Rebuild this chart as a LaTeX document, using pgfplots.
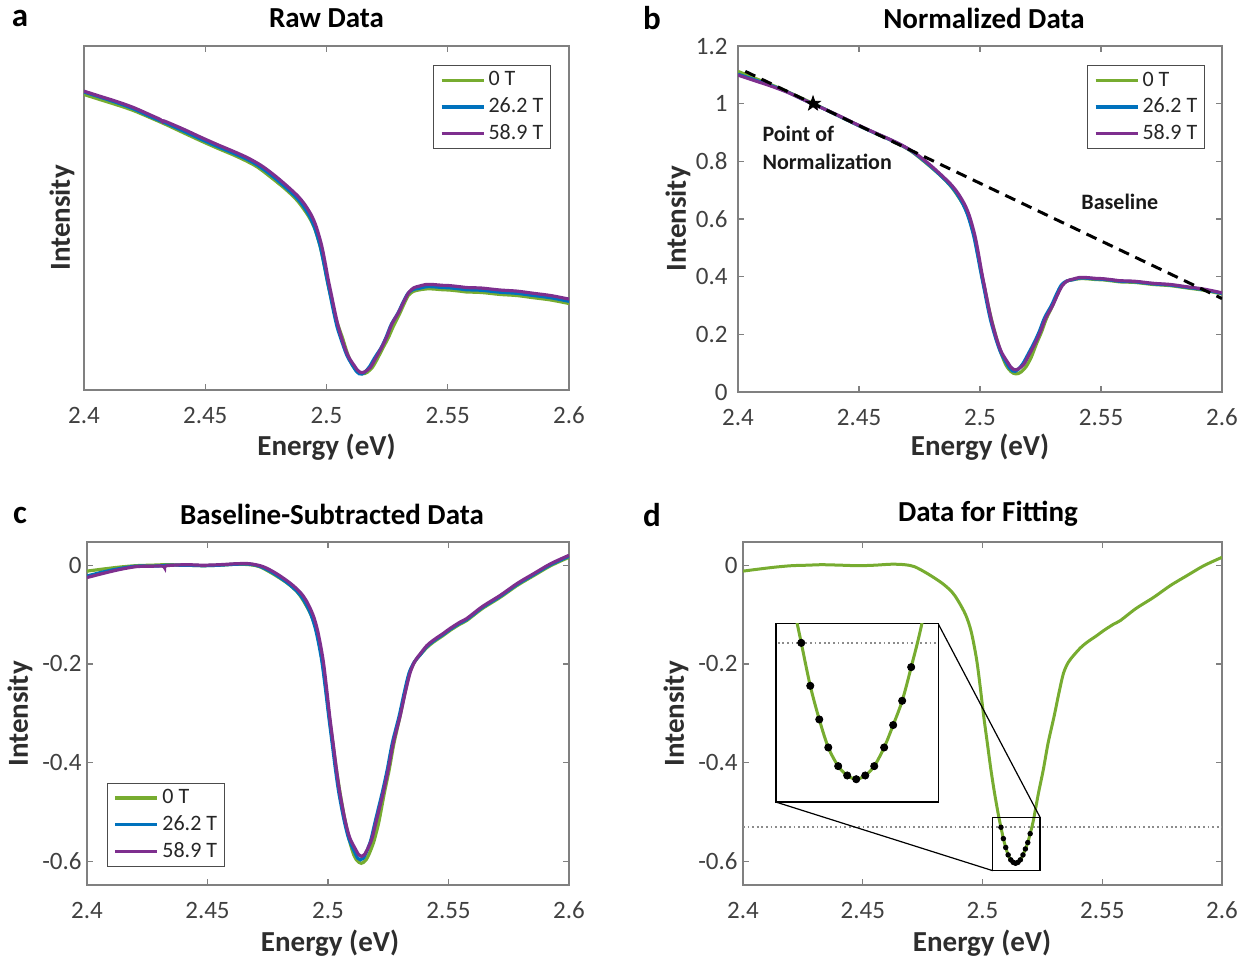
\documentclass[border=0pt]{standalone}
\usepackage{fontspec}
\setmainfont{Carlito}
\usepackage{pgfplots}
\pgfplotsset{compat=1.18}
\usepackage{pgfplotstable}
\usetikzlibrary{plotmarks}

\definecolor{mgreen}{RGB}{119,172,48}
\definecolor{mblue}{RGB}{0,114,189}
\definecolor{mpurple}{RGB}{126,47,142}
\definecolor{axgray}{RGB}{128,128,128}
\definecolor{ticklab}{RGB}{64,64,64}
\definecolor{labcol}{RGB}{45,45,45}

\newcommand\ticksize{\fontsize{12.5}{15}\selectfont}
\newcommand\labsize{\fontsize{14.5}{17}\selectfont\bfseries}
\newcommand\letsize{\fontsize{16.5}{19}\selectfont\bfseries}

\pgfdeclareplotmark{fstar}{%
 \pgfpathmoveto{\pgfpointpolar{90}{\pgfplotmarksize}}%
 \pgfpathlineto{\pgfpointpolar{126}{0.4\pgfplotmarksize}}%
 \pgfpathlineto{\pgfpointpolar{162}{\pgfplotmarksize}}%
 \pgfpathlineto{\pgfpointpolar{198}{0.4\pgfplotmarksize}}%
 \pgfpathlineto{\pgfpointpolar{234}{\pgfplotmarksize}}%
 \pgfpathlineto{\pgfpointpolar{270}{0.4\pgfplotmarksize}}%
 \pgfpathlineto{\pgfpointpolar{306}{\pgfplotmarksize}}%
 \pgfpathlineto{\pgfpointpolar{342}{0.4\pgfplotmarksize}}%
 \pgfpathlineto{\pgfpointpolar{18}{\pgfplotmarksize}}%
 \pgfpathlineto{\pgfpointpolar{54}{0.4\pgfplotmarksize}}%
 \pgfpathclose\pgfusepathqfillstroke}

% 58.9 T (purple): x, baseline-subtracted c, normalized n, raw a
\pgfplotstableread{
x c n a
2.4000 -0.025 1.099 1.099
2.4064 -0.017 1.081 1.081
2.4133 -0.009 1.062 1.062
2.4203 -0.003 1.040 1.040
2.4270 -0.002 1.014 1.014
2.4315 -0.002 0.996 0.996
2.4322 -0.005 0.990 0.990
2.4330 -0.001 0.991 0.991
2.4410 0.001 0.961 0.961
2.4481 0.000 0.932 0.932
2.4550 0.001 0.905 0.905
2.4620 0.003 0.879 0.879
2.4675 0.003 0.857 0.857
2.4731 -0.003 0.829 0.829
2.4786 -0.017 0.793 0.793
2.4842 -0.036 0.751 0.751
2.4883 -0.054 0.717 0.717
2.4910 -0.072 0.688 0.688
2.4938 -0.101 0.648 0.648
2.4958 -0.135 0.606 0.606
2.4979 -0.190 0.542 0.542
2.4993 -0.245 0.482 0.482
2.5007 -0.306 0.415 0.415
2.5021 -0.360 0.356 0.356
2.5035 -0.414 0.296 0.296
2.5049 -0.461 0.243 0.243
2.5070 -0.515 0.181 0.181
2.5090 -0.552 0.136 0.136
2.5118 -0.579 0.098 0.098
2.5128 -0.587 0.086 0.086
2.5139 -0.590 0.078 0.078
2.5150 -0.587 0.077 0.077
2.5160 -0.579 0.081 0.081
2.5181 -0.556 0.096 0.096
2.5202 -0.515 0.128 0.128
2.5229 -0.461 0.171 0.171
2.5250 -0.414 0.210 0.210
2.5271 -0.360 0.256 0.256
2.5299 -0.306 0.298 0.298
2.5320 -0.259 0.337 0.337
2.5340 -0.219 0.369 0.369
2.5360 -0.195 0.385 0.385
2.5382 -0.180 0.391 0.391
2.5410 -0.163 0.397 0.397
2.5437 -0.152 0.397 0.397
2.5479 -0.138 0.394 0.394
2.5507 -0.128 0.393 0.393
2.5549 -0.115 0.389 0.389
2.5576 -0.108 0.386 0.386
2.5640 -0.084 0.384 0.384
2.5715 -0.061 0.377 0.377
2.5785 -0.037 0.373 0.373
2.5854 -0.017 0.365 0.365
2.5924 0.003 0.357 0.357
2.6000 0.020 0.344 0.344
}\tabP

% 26.2 T (blue)
\pgfplotstableread{
x c n a
2.4000 -0.022 1.102 1.096
2.4064 -0.014 1.084 1.078
2.4133 -0.007 1.064 1.058
2.4203 -0.002 1.041 1.035
2.4270 -0.002 1.014 1.008
2.4315 -0.001 0.997 0.991
2.4330 0.000 0.992 0.986
2.4410 0.000 0.960 0.954
2.4481 -0.001 0.931 0.925
2.4550 0.000 0.904 0.898
2.4620 0.002 0.878 0.872
2.4675 0.002 0.856 0.850
2.4721 -0.003 0.833 0.827
2.4776 -0.017 0.797 0.791
2.4832 -0.036 0.755 0.749
2.4873 -0.054 0.721 0.715
2.4901 -0.072 0.692 0.686
2.4930 -0.101 0.651 0.645
2.4951 -0.135 0.609 0.603
2.4973 -0.190 0.545 0.539
2.4988 -0.245 0.484 0.478
2.5003 -0.306 0.417 0.411
2.5017 -0.360 0.358 0.352
2.5031 -0.414 0.298 0.292
2.5045 -0.461 0.245 0.239
2.5066 -0.515 0.183 0.183
2.5086 -0.554 0.136 0.136
2.5114 -0.585 0.094 0.094
2.5124 -0.594 0.081 0.081
2.5135 -0.597 0.073 0.073
2.5146 -0.594 0.072 0.072
2.5156 -0.585 0.077 0.077
2.5177 -0.558 0.098 0.098
2.5198 -0.515 0.130 0.130
2.5225 -0.461 0.173 0.167
2.5246 -0.414 0.212 0.206
2.5267 -0.360 0.258 0.252
2.5295 -0.306 0.300 0.294
2.5316 -0.259 0.339 0.333
2.5336 -0.219 0.371 0.365
2.5358 -0.196 0.385 0.379
2.5382 -0.182 0.389 0.383
2.5410 -0.165 0.395 0.389
2.5437 -0.154 0.395 0.389
2.5479 -0.140 0.392 0.386
2.5507 -0.130 0.391 0.385
2.5549 -0.117 0.387 0.381
2.5576 -0.110 0.384 0.378
2.5640 -0.086 0.382 0.376
2.5715 -0.063 0.375 0.369
2.5785 -0.039 0.371 0.365
2.5854 -0.019 0.363 0.357
2.5924 0.001 0.355 0.349
2.6000 0.018 0.342 0.336
}\tabB

% 0 T (green)
\pgfplotstableread{
x c n a
2.4000 -0.012 1.112 1.087
2.4064 -0.008 1.090 1.069
2.4133 -0.004 1.067 1.050
2.4203 -0.001 1.042 1.029
2.4270 0.000 1.016 1.004
2.4330 0.001 0.993 0.981
2.4410 0.000 0.960 0.948
2.4481 -0.001 0.931 0.919
2.4550 0.000 0.904 0.892
2.4620 0.002 0.878 0.866
2.4675 0.001 0.855 0.843
2.4716 -0.003 0.835 0.823
2.4770 -0.017 0.799 0.787
2.4830 -0.036 0.756 0.744
2.4872 -0.054 0.721 0.709
2.4898 -0.072 0.693 0.681
2.4930 -0.101 0.651 0.639
2.4953 -0.135 0.608 0.596
2.4975 -0.190 0.544 0.532
2.4990 -0.245 0.483 0.471
2.5005 -0.306 0.416 0.404
2.5020 -0.360 0.356 0.344
2.5035 -0.414 0.296 0.284
2.5050 -0.461 0.243 0.243
2.5066 -0.505 0.193 0.203
2.5077 -0.531 0.162 0.172
2.5087 -0.554 0.135 0.145
2.5097 -0.572 0.113 0.123
2.5107 -0.587 0.094 0.104
2.5118 -0.597 0.080 0.090
2.5128 -0.602 0.071 0.081
2.5138 -0.604 0.065 0.075
2.5148 -0.602 0.063 0.073
2.5158 -0.597 0.064 0.074
2.5169 -0.587 0.069 0.079
2.5179 -0.575 0.077 0.087
2.5189 -0.562 0.086 0.096
2.5199 -0.544 0.100 0.110
2.5212 -0.518 0.121 0.131
2.5234 -0.461 0.169 0.169
2.5254 -0.414 0.208 0.202
2.5274 -0.360 0.254 0.242
2.5299 -0.306 0.298 0.286
2.5319 -0.259 0.337 0.325
2.5338 -0.219 0.370 0.358
2.5358 -0.197 0.384 0.372
2.5380 -0.183 0.389 0.377
2.5410 -0.167 0.393 0.381
2.5437 -0.156 0.393 0.381
2.5479 -0.142 0.390 0.378
2.5507 -0.132 0.389 0.377
2.5549 -0.119 0.385 0.373
2.5576 -0.112 0.382 0.370
2.5640 -0.088 0.380 0.368
2.5715 -0.065 0.373 0.361
2.5785 -0.041 0.369 0.357
2.5854 -0.021 0.361 0.349
2.5924 -0.001 0.353 0.341
2.6000 0.016 0.340 0.328
}\tabG

% points used for fitting (0 T)
\pgfplotstableread{
x y
2.5077 -0.531
2.5087 -0.554
2.5097 -0.572
2.5107 -0.587
2.5118 -0.597
2.5128 -0.602
2.5138 -0.604
2.5148 -0.602
2.5158 -0.597
2.5169 -0.587
2.5179 -0.575
2.5189 -0.562
2.5199 -0.544
}\tabDots

\pgfplotsset{
 panel/.style={
  scale only axis, anchor=south west,
  xmin=2.4, xmax=2.6,
  xtick={2.4,2.45,2.5,2.55,2.6},
  xticklabels={2.4,2.45,2.5,2.55,2.6},
  tick align=inside, major tick length=3pt,
  axis line style={axgray, line width=0.6pt},
  every tick/.style={axgray, line width=0.6pt},
  tick label style={font=\ticksize, text=ticklab},
  xticklabel style={anchor=center, inner sep=0pt, yshift=-12.5pt},
  yticklabel style={anchor=east, inner sep=0pt},
  legend style={font=\fontsize{11}{13}\selectfont, draw=black!70, line width=0.6pt,
    fill=white, inner xsep=3pt, inner ysep=2.5pt, row sep=3.2pt,
    nodes={inner sep=0.6pt, text=black!85},
    /tikz/every odd column/.style={column sep=1pt}},
  legend cell align=left,
  legend image code/.code={\draw[#1, line width=1.8pt] (0pt,0pt) -- (21pt,0pt);},
  clip=true,
 },
 spec/.style={line width=1.6pt, no marks, smooth, tension=0.5},
}

\begin{document}
\begin{tikzpicture}
\useasboundingbox (0,0) rectangle (625.5pt,480pt);

% ---------- a ----------
\begin{axis}[panel, at={(42pt,285pt)}, width=242.5pt, height=172pt,
  ymin=0.014, ymax=1.263, ytick=\empty,
  legend style={at={(0.963,0.945)}, anchor=north east}]
\addplot[spec, mgreen] table[x=x,y=a]{\tabG};
\addlegendentry{0 T}
\addplot[spec, mblue] table[x=x,y=a]{\tabB};
\addlegendentry{26.2 T}
\addplot[spec, mpurple] table[x=x,y=a]{\tabP};
\addlegendentry{58.9 T}
\end{axis}

% ---------- b ----------
\begin{axis}[panel, at={(369pt,284pt)}, width=242pt, height=173pt,
  ymin=0, ymax=1.2, ytick={0,0.2,0.4,0.6,0.8,1,1.2},
  yticklabels={0,0.2,0.4,0.6,0.8,1,1.2},
  yticklabel style={xshift=-5pt},
  legend style={at={(0.965,0.945)}, anchor=north east}]
\addplot[spec, mgreen] table[x=x,y=n]{\tabG};
\addlegendentry{0 T}
\addplot[spec, mblue] table[x=x,y=n]{\tabB};
\addlegendentry{26.2 T}
\addplot[spec, mpurple] table[x=x,y=n]{\tabP};
\addlegendentry{58.9 T}
\addplot[forget plot, black, line width=1.5pt, dash pattern=on 5.5pt off 3.5pt] coordinates {(2.403,1.112) (2.6,0.324)};
\addplot[forget plot, only marks, mark=fstar, mark size=3.8pt, black] coordinates {(2.431,1.0)};
\node[anchor=west, align=left, font=\fontsize{11}{14}\selectfont\bfseries, text=black!90] at (axis cs:2.4072,0.846) {Point of\\Normalization};
\node[anchor=west, font=\fontsize{11}{14}\selectfont\bfseries, text=black!90] at (axis cs:2.5390,0.661) {Baseline};
\end{axis}

% ---------- c ----------
\begin{axis}[panel, at={(43.5pt,37.5pt)}, width=241pt, height=171.5pt,
  ymin=-0.648, ymax=0.047, ytick={-0.6,-0.4,-0.2,0},
  yticklabels={-0.6,-0.4,-0.2,0},
  yticklabel style={xshift=-2.5pt},
  legend style={at={(0.0415,0.052)}, anchor=south west}]
\addplot[spec, mgreen] table[x=x,y=c]{\tabG};
\addlegendentry{0 T}
\addplot[spec, mblue] table[x=x,y=c]{\tabB};
\addlegendentry{26.2 T}
\addplot[spec, mpurple] table[x=x,y=c]{\tabP};
\addlegendentry{58.9 T}
\end{axis}

% ---------- d ----------
\begin{axis}[panel, at={(371.5pt,37.5pt)}, width=239.5pt, height=171.5pt,
  ymin=-0.648, ymax=0.047, ytick={-0.6,-0.4,-0.2,0},
  yticklabels={-0.6,-0.4,-0.2,0},
  yticklabel style={xshift=-2.5pt}]
\addplot[black!45, line width=0.9pt, dash pattern=on 0.9pt off 1.4pt] coordinates {(2.4,-0.531) (2.6,-0.531)};
\addplot[mgreen, line width=1.5pt, no marks, smooth, tension=0.5] table[x=x,y=c]{\tabG};
\addplot[only marks, mark=*, mark size=1.15pt, black] table[x=x,y=y]{\tabDots};
\draw[black, line width=0.6pt] (axis cs:2.5043,-0.619) rectangle (axis cs:2.5240,-0.5106);
\draw[black, line width=0.6pt] (axis cs:2.4815,-0.1187) -- (axis cs:2.5240,-0.5106);
\draw[black, line width=0.6pt] (axis cs:2.4138,-0.480) -- (axis cs:2.5043,-0.619);
\end{axis}

% inset of d
\begin{axis}[scale only axis, anchor=south west, at={(388pt,79pt)}, width=81.1pt, height=89.1pt,
  xmin=2.5049, xmax=2.5229, ymin=-0.6162, ymax=-0.5208, ticks=none,
  axis line style={black, line width=0.6pt}, axis background/.style={fill=white}, clip=true]
\addplot[black!45, line width=0.9pt, dash pattern=on 0.9pt off 1.4pt] coordinates {(2.50,-0.531) (2.53,-0.531)};
\addplot[mgreen, line width=1.5pt, no marks, smooth] table[x=x,y=c]{\tabG};
\addplot[only marks, mark=*, mark size=1.8pt, black] table[x=x,y=y]{\tabDots};
\end{axis}

% ---------- titles, labels, letters ----------
\node[font=\letsize] at (10pt,471pt) {a};
\node[font=\letsize] at (326pt,471pt) {b};
\node[font=\letsize] at (10pt,222.5pt) {c};
\node[font=\letsize] at (326pt,222.5pt) {d};

\node[font=\labsize] at (163.25pt,471pt) {Raw Data};
\node[font=\labsize] at (492pt,471pt) {Normalized Data};
\node[font=\labsize] at (166pt,223pt) {Baseline-Subtracted Data};
\node[font=\labsize] at (494pt,223pt) {Data for Fitting};

\node[font=\labsize, text=labcol] at (163.25pt,256.5pt) {Energy (eV)};
\node[font=\labsize, text=labcol] at (490pt,256.5pt) {Energy (eV)};
\node[font=\labsize, text=labcol] at (165pt,8.5pt) {Energy (eV)};
\node[font=\labsize, text=labcol] at (491pt,8.5pt) {Energy (eV)};

\node[font=\labsize, text=labcol, rotate=90] at (31pt,371pt) {Intensity};
\node[font=\labsize, text=labcol, rotate=90] at (339pt,370.5pt) {Intensity};
\node[font=\labsize, text=labcol, rotate=90] at (10pt,123pt) {Intensity};
\node[font=\labsize, text=labcol, rotate=90] at (338pt,123pt) {Intensity};
\end{tikzpicture}
\end{document}
